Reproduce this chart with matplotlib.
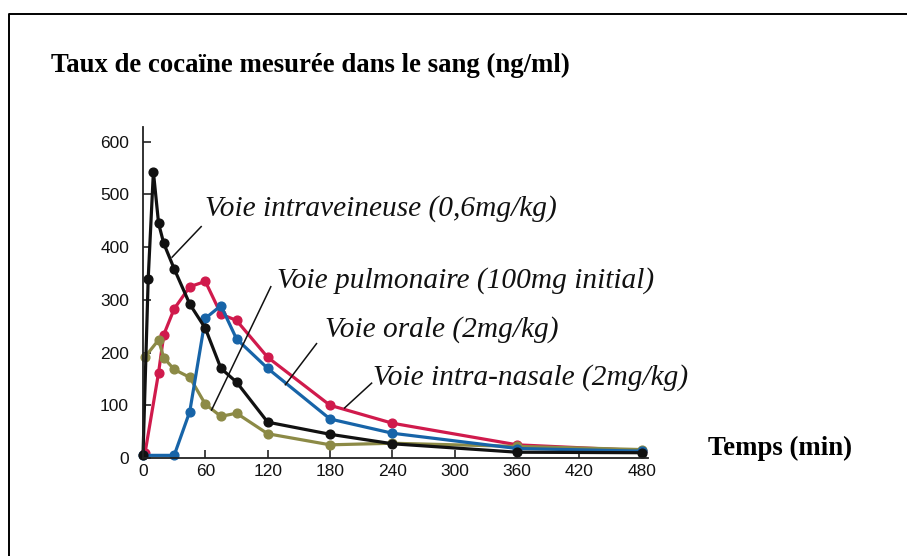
import numpy as np
import matplotlib.pyplot as plt
import matplotlib as mpl
from matplotlib.lines import Line2D

mpl.rcParams['font.family'] = 'Liberation Sans'

# concentration de cocaïne (ng/ml) selon le temps (min)
iv_t = [0, 5, 10, 15, 20, 30, 45, 60, 75, 90, 120, 180, 240, 360, 480]
iv_y = [5, 340, 543, 445, 407, 359, 292, 246, 170, 144, 68, 45, 27, 11, 10]

nasal_t = [2, 15, 20, 30, 45, 60, 75, 90, 120, 180, 240, 360, 480]
nasal_y = [10, 162, 234, 283, 325, 335, 273, 261, 191, 100, 66, 25, 14]

oral_t = [0, 30, 45, 60, 75, 90, 120, 180, 240, 360, 480]
oral_y = [5, 5, 88, 265, 289, 226, 170, 74, 47, 18, 13]

pulm_t = [2, 15, 20, 30, 45, 60, 75, 90, 120, 180, 240, 360, 480]
pulm_y = [192, 224, 190, 168, 153, 102, 79, 85, 46, 25, 28, 22, 16]

x_ticks = [0, 60, 120, 180, 240, 300, 360, 420, 480]
y_ticks = [0, 100, 200, 300, 400, 500, 600]

W, H = 907, 556
fig = plt.figure(figsize=(W / 100, H / 100), dpi=100)
ax = fig.add_axes([143 / W, 1 - 458 / H, (648 - 143) / W, (458 - 127) / H])

series = [
    (nasal_t, nasal_y, '#d01a4c'),
    (pulm_t, pulm_y, '#8c8a46'),
    (oral_t, oral_y, '#1764a8'),
    (iv_t, iv_y, '#111111'),
]
for t, y, c in series:
    ax.plot(t, y, '-o', color=c, lw=2.3, markersize=6.3, clip_on=False)

ax.set_xlim(0, 486)
ax.set_ylim(0, 628)
ax.set_xticks(x_ticks)
ax.set_yticks(y_ticks)
ax.tick_params(direction='in', length=6, width=1.1, colors='#111111',
               labelsize=12.5)
ax.tick_params(axis='y', pad=10)
ax.tick_params(axis='x', pad=4)
for s in ['top', 'right']:
    ax.spines[s].set_visible(False)
for s in ['left', 'bottom']:
    ax.spines[s].set_color('#222222')
    ax.spines[s].set_linewidth(1.3)

# étiquettes et traits de rappel
labels = [
    ('Voie intraveineuse (0,6mg/kg)', 60, 460, (56, 439), (28, 381)),
    ('Voie pulmonaire (100mg initial)', 129, 324, (123, 325), (66, 91)),
    ('Voie orale (2mg/kg)', 175, 231, (167, 217), (137, 139)),
    ('Voie intra-nasale (2mg/kg)', 221, 139, (220, 142), (194, 95)),
]
for txt, tx, ty, p0, p1 in labels:
    ax.text(tx, ty, txt, fontsize=21.2, style='italic', family='Liberation Serif',
            ha='left', va='baseline', color='#111111', clip_on=False)
    ax.plot([p0[0], p1[0]], [p0[1], p1[1]], color='#111111', lw=1.1,
            clip_on=False)

fig.text(51 / W, 1 - 72 / H, 'Taux de cocaïne mesurée dans le sang (ng/ml)',
         fontsize=19.3, fontweight='bold', family='Liberation Serif',
         ha='left', va='baseline')
fig.text(708 / W, 1 - 455 / H, 'Temps (min)', fontsize=19.3, fontweight='bold',
         family='Liberation Serif', ha='left', va='baseline')

# cadre (gauche et haut)
fig.add_artist(Line2D([9 / W, 9 / W, 1.0], [0.0, 1 - 13.5 / H, 1 - 13.5 / H],
                      transform=fig.transFigure, color='black', lw=1.4))

fig.savefig('out.png', dpi=100)
